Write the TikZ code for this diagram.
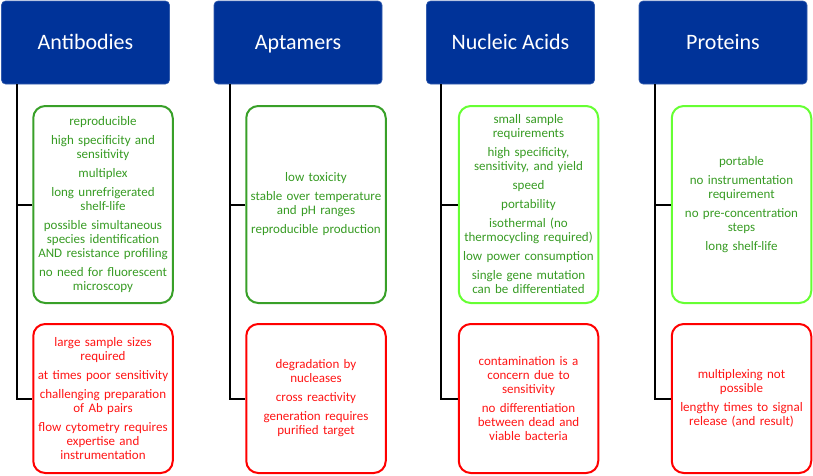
\documentclass[tikz,border=0pt]{standalone}
\usepackage{fontspec}
\setmainfont{Carlito}
\definecolor{hdrblue}{RGB}{0,51,153}
\definecolor{dkgreen}{RGB}{56,160,40}
\definecolor{ltgreen}{RGB}{102,255,51}
\definecolor{txgreen}{RGB}{55,155,35}
\definecolor{prored}{RGB}{255,0,0}
\definecolor{contxt}{RGB}{255,20,20}
\tikzset{
  hdr/.style={draw=hdrblue!80!white, line width=0.6pt, fill=hdrblue, rounded corners=4pt,
    minimum width=168pt, minimum height=83pt, inner sep=0pt, text=white,
    text height=14pt, text depth=0pt,
    font=\fontsize{22}{26}\selectfont},
  listbox/.style={rounded corners=12pt, line width=2pt, inner sep=2.5pt,
    text width=134.5pt, minimum width=139.5pt, align=center,
    font=\fontsize{13}{14}\selectfont},
  prosbox/.style={listbox, draw=dkgreen, text=txgreen, minimum height=197pt},
  prosbox2/.style={listbox, draw=ltgreen, text=txgreen, minimum height=197pt},
  consbox/.style={listbox, draw=prored, text=contxt, minimum height=149pt},
  link/.style={draw=black, line width=2pt},
}
\newcommand{\gap}{\\[5pt]}
\begin{document}
\begin{tikzpicture}[x=1pt,y=-1pt]
\useasboundingbox (0,0) rectangle (813,475);
% headers
\node[hdr] (h1) at (85.5,42.5) {Antibodies};
\node[hdr] (h2) at (298,42.5) {Aptamers};
\node[hdr] (h3) at (510.5,42.5) {Nucleic Acids};
\node[hdr] (h4) at (723,42.5) {Proteins};
% pros
\node[prosbox] (p1) at (103,204.5) {reproducible\gap high specificity and\\ sensitivity\gap multiplex\gap long unrefrigerated\\ shelf-life\gap possible simultaneous\\ species identification\\ AND resistance profiling\gap no need for fluorescent\\ microscopy};
\node[prosbox] (p2) at (316,204.5) {low toxicity\gap stable over temperature\\ and pH ranges\gap reproducible production};
\node[prosbox2] (p3) at (528.5,204.5) {small sample\\ requirements\gap high specificity,\\ sensitivity, and yield\gap speed\gap portability\gap isothermal (no\\ thermocycling required)\gap low power consumption\gap single gene mutation\\ can be differentiated};
\node[prosbox2] (p4) at (741.5,204.5) {portable\gap no instrumentation\\ requirement\gap no pre-concentration\\ steps\gap long shelf-life};
% cons
\node[consbox] (c1) at (103,398.5) {large sample sizes\\ required\gap at times poor sensitivity\gap challenging preparation\\ of Ab pairs\gap flow cytometry requires\\ expertise and\\ instrumentation};
\node[consbox] (c2) at (316,398.5) {degradation by\\ nucleases\gap cross reactivity\gap generation requires\\ purified target};
\node[consbox] (c3) at (528.5,398.5) {contamination is a\\ concern due to\\ sensitivity\gap no differentiation\\ between dead and\\ viable bacteria};
\node[consbox] (c4) at (741.5,398.5) {multiplexing not\\ possible\gap lengthy times to signal\\ release (and result)};
% connectors
\foreach \i/\dx in {1/16,2/16,3/15,4/16}{
  \coordinate (t\i) at ([xshift=\dx pt]h\i.south west);
  \draw[link] (t\i) |- (c\i.west);
  \draw[link] (p\i.west) -- (p\i.west -| t\i);
}
\end{tikzpicture}
\end{document}
